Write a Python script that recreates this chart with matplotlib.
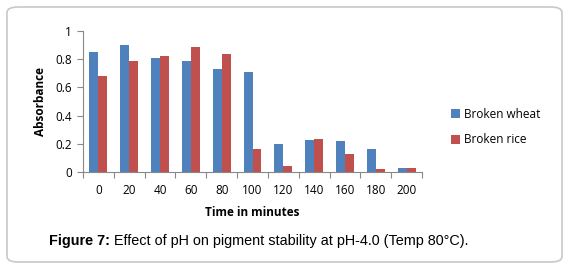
import matplotlib
matplotlib.use("Agg")
import matplotlib.pyplot as plt
from matplotlib.patches import FancyBboxPatch
import numpy as np

categories = ["0", "20", "40", "60", "80", "100", "120", "140", "160", "180", "200"]
wheat = [0.85, 0.90, 0.81, 0.79, 0.73, 0.71, 0.20, 0.23, 0.22, 0.16, 0.03]
rice = [0.68, 0.79, 0.82, 0.89, 0.84, 0.165, 0.04, 0.235, 0.13, 0.02, 0.03]
yticks = [0, 0.2, 0.4, 0.6, 0.8, 1]
ytick_labels = ["0", "0.2", "0.4", "0.6", "0.8", "1"]

W, H = 567, 269
fig = plt.figure(figsize=(W / 100, H / 100), dpi=100)
fig.patch.set_facecolor("white")

border = FancyBboxPatch((7 / W, 7 / H), (555 / W), (255 / H),
                        boxstyle="round,pad=0,rounding_size=0.02",
                        transform=fig.transFigure, facecolor="none",
                        edgecolor="#c8c8c8", linewidth=1.2)
fig.patches.append(border)

ax = fig.add_axes([83 / W, (H - 172) / H, (422 - 83) / W, (172 - 31) / H])
x = np.arange(len(categories))
bw = 0.29
ax.bar(x - bw / 2, wheat, bw, color="#4F81BD", label="Broken wheat")
ax.bar(x + bw / 2, rice, bw, color="#C0504D", label="Broken rice")

ax.set_xlim(-0.5, len(categories) - 0.5)
ax.set_ylim(0, 1)
font = "Open Sans"
ax.set_yticks(yticks)
ax.set_yticklabels(ytick_labels, fontfamily=font, fontsize=8.5)
ax.set_xticks(x)
ax.set_xticklabels(categories, fontfamily=font, fontsize=8.5)
ax.tick_params(axis="x", length=0, pad=9)
ax.tick_params(axis="y", length=4, width=0.8, color="#888888", pad=4)
ax.set_xticks(np.arange(-0.5, len(categories), 1), minor=True)
ax.tick_params(axis="x", which="minor", length=4, width=0.8, color="#888888")
for s in ["top", "right"]:
    ax.spines[s].set_visible(False)
for s in ["left", "bottom"]:
    ax.spines[s].set_color("#888888")
    ax.spines[s].set_linewidth(0.8)

ax.set_ylabel("Absorbance", fontfamily=font, fontsize=8.5, fontweight="bold", labelpad=6)
fig.text((83 + 422) / 2 / W, 1 - 213 / H, "Time in minutes", ha="center", va="center",
         fontfamily=font, fontsize=8.5, fontweight="bold")

leg = ax.legend(loc="center left", bbox_to_anchor=(440 / W, 1 - 127 / H),
                bbox_transform=fig.transFigure, frameon=False,
                prop={"family": font, "size": 8.5}, handlelength=0.8,
                handleheight=0.8, handletextpad=0.3, labelspacing=1.1)

# caption: bold "Figure 7:" followed by regular text
t1 = fig.text(49 / W, 1 - 241 / H, "Figure 7:", ha="left", va="center",
              fontfamily="Liberation Sans", fontsize=10.4, fontweight="bold")
fig.canvas.draw()
r = fig.canvas.get_renderer()
bb = t1.get_window_extent(r)
fig.text(bb.x1 / W, 1 - 241 / H, " Effect of pH on pigment stability at pH-4.0 (Temp 80°C).",
         ha="left", va="center", fontfamily="Liberation Sans", fontsize=10.4)
fig.savefig("out.png", dpi=100)
